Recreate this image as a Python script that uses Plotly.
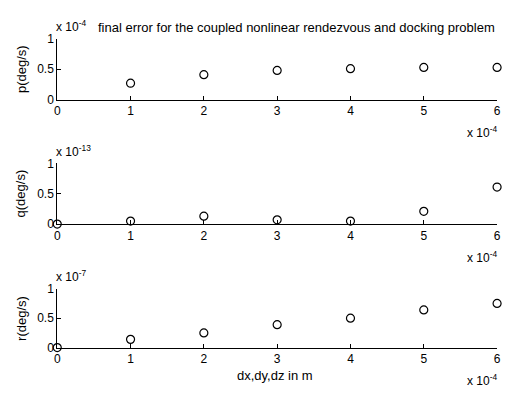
import plotly.graph_objects as go

W, H = 507, 399

# data (x in metres, values in deg/s)
x_m = [0, 1e-4, 2e-4, 3e-4, 4e-4, 5e-4, 6e-4]
p_err = [None, 0.27e-4, 0.41e-4, 0.48e-4, 0.51e-4, 0.53e-4, 0.53e-4]
q_err = [0.0, 0.05e-13, 0.13e-13, 0.07e-13, 0.05e-13, 0.21e-13, 0.61e-13]
r_err = [0.0, 0.14e-7, 0.25e-7, 0.39e-7, 0.50e-7, 0.64e-7, 0.75e-7]

x_ticks = [0, 1e-4, 2e-4, 3e-4, 4e-4, 5e-4, 6e-4]
x_ticktext = ["0", "1", "2", "3", "4", "5", "6"]
y_ticktext = ["0", "0.5", "1"]

panels = [
    ("p(deg/s)", p_err, 1e-4, "-4"),
    ("q(deg/s)", q_err, 1e-13, "-13"),
    ("r(deg/s)", r_err, 1e-7, "-7"),
]

# pixel geometry (top, bottom) of each panel
ypix = [(33, 96), (162, 225), (292, 353)]
x0px, x1px = 55, 501

FONT = "Liberation Sans, Arial, sans-serif"
TICK = 12
TXT = 13

fig = go.Figure()
layout = dict(
    width=W, height=H, margin=dict(l=0, r=0, t=0, b=0),
    paper_bgcolor="white", plot_bgcolor="white",
    showlegend=False, font=dict(family=FONT, size=TXT, color="black"),
)
annotations = []

for i, (lab, vals, scale, expo) in enumerate(panels):
    n = "" if i == 0 else str(i + 1)
    top, bot = ypix[i]
    fig.add_trace(go.Scatter(
        x=x_m, y=vals, mode="markers", xaxis="x" + n, yaxis="y" + n,
        cliponaxis=False,
        marker=dict(symbol="circle-open", size=8, color="black",
                    line=dict(width=1.2, color="black")),
    ))
    layout["xaxis" + n] = dict(
        domain=[x0px / W, x1px / W], range=[0, 6e-4], anchor="y" + n,
        tickvals=x_ticks, ticktext=x_ticktext, ticks="inside", ticklen=4,
        tickcolor="black", showline=True, linecolor="black", linewidth=1,
        showgrid=False, zeroline=False, tickfont=dict(size=TICK),
    )
    layout["yaxis" + n] = dict(
        domain=[1 - bot / H, 1 - top / H], range=[0, scale], anchor="x" + n,
        tickvals=[0, 0.5 * scale, scale], ticktext=y_ticktext,
        ticks="inside", ticklen=4, tickcolor="black", showline=True,
        linecolor="black", linewidth=1, showgrid=False, zeroline=False,
        tickfont=dict(size=TICK),
    )
    # y axis label
    annotations.append(dict(
        text=lab, xref="paper", yref="paper", x=18 / W,
        y=1 - (top + bot) / 2 / H, textangle=-90, xanchor="center",
        yanchor="middle", showarrow=False, font=dict(size=TXT)))
    # y multiplier
    annotations.append(dict(
        text="x 10<sup>" + expo + "</sup>", xref="paper", yref="paper",
        x=52 / W, y=1 - (top - 13) / H, xanchor="left", yanchor="middle",
        showarrow=False, font=dict(size=TICK)))
    # x multiplier
    annotations.append(dict(
        text="x 10<sup>-4</sup>", xref="paper", yref="paper",
        x=503 / W, y=1 - (bot + 34) / H, xanchor="right", yanchor="middle",
        showarrow=False, font=dict(size=TICK)))

annotations.append(dict(
    text="final error for the coupled nonlinear rendezvous and docking problem",
    xref="paper", yref="paper", x=298 / W, y=1 - 21 / H,
    xanchor="center", yanchor="middle", showarrow=False, font=dict(size=TXT)))
annotations.append(dict(
    text="dx,dy,dz in m", xref="paper", yref="paper", x=276 / W, y=1 - 382 / H,
    xanchor="center", yanchor="middle", showarrow=False, font=dict(size=TXT)))

layout["annotations"] = annotations
fig.update_layout(**layout)
fig.write_html("out.html")
